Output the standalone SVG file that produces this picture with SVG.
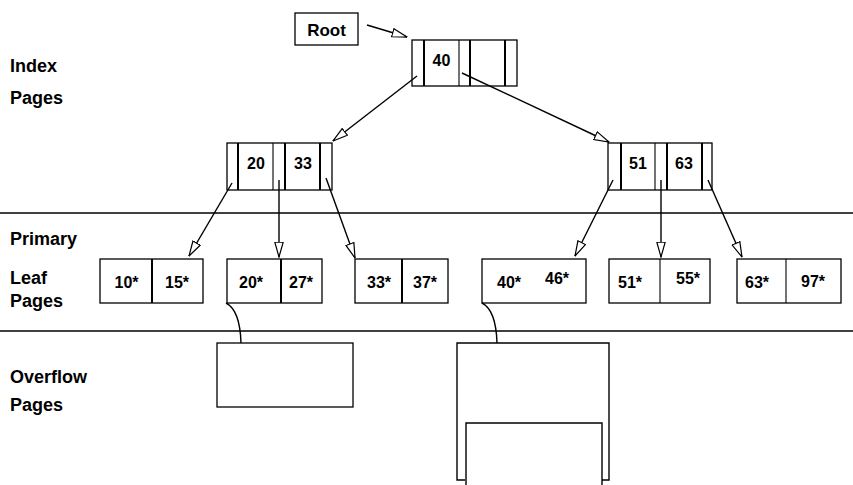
<svg xmlns="http://www.w3.org/2000/svg" width="853" height="485" viewBox="0 0 853 485">
<defs>
<marker id="ah" viewBox="0 0 16 10" refX="15.5" refY="5" markerWidth="16" markerHeight="10" markerUnits="userSpaceOnUse" orient="auto">
<path d="M0.6,0.8 L15.5,5 L0.6,9.2 Z" fill="#fff" stroke="#000" stroke-width="1.2"/>
</marker>
</defs>
<style>
text{font-family:"Liberation Sans",Arial,sans-serif;font-weight:bold;fill:#000}
.lbl{font-size:18px}
.k{font-size:16px;text-anchor:middle}
.box{fill:#fff;stroke:#000;stroke-width:1.3}
.thin{stroke:#000;stroke-width:1.1}
.thick{stroke:#000;stroke-width:2}
.sep{stroke:#000;stroke-width:1.5}
.c{fill:none;stroke:#000;stroke-width:1.4}
</style>
<rect width="853" height="485" fill="#fff"/>

<g id="labels">
<text class="lbl" x="10" y="72">Index</text>
<text class="lbl" x="10" y="104">Pages</text>
<text class="lbl" x="10" y="245">Primary</text>
<text class="lbl" x="10" y="284">Leaf</text>
<text class="lbl" x="10" y="307">Pages</text>
<text class="lbl" x="10" y="383">Overflow</text>
<text class="lbl" x="10" y="411">Pages</text>
</g>

<g id="separators">
<line class="sep" x1="0" y1="213" x2="853" y2="213"/>
<line class="sep" x1="0" y1="331" x2="853" y2="331"/>
</g>

<g id="root">
<rect class="box" x="295" y="13" width="63" height="32"/>
<text class="k" x="326.5" y="36" style="font-size:17px">Root</text>
</g>

<g id="node-40">
<rect class="box" x="412" y="40" width="105" height="46"/>
<line class="thick" x1="424" y1="40" x2="424" y2="86"/>
<line class="thin" x1="459" y1="40" x2="459" y2="86"/>
<line class="thick" x1="470" y1="40" x2="470" y2="86"/>
<line class="thick" x1="505" y1="40" x2="505" y2="86"/>
<text class="k" x="441.5" y="66">40</text>
</g>

<g id="node-20-33">
<rect class="box" x="227" y="143" width="105" height="47"/>
<line class="thick" x1="238" y1="143" x2="238" y2="190"/>
<line class="thin" x1="273" y1="143" x2="273" y2="190"/>
<line class="thick" x1="285" y1="143" x2="285" y2="190"/>
<line class="thick" x1="320" y1="143" x2="320" y2="190"/>
<text class="k" x="256" y="169">20</text>
<text class="k" x="303" y="169">33</text>
</g>

<g id="node-51-63">
<rect class="box" x="608" y="143" width="104" height="47"/>
<line class="thick" x1="621" y1="143" x2="621" y2="190"/>
<line class="thin" x1="655" y1="143" x2="655" y2="190"/>
<line class="thick" x1="667" y1="143" x2="667" y2="190"/>
<line class="thick" x1="702" y1="143" x2="702" y2="190"/>
<text class="k" x="638" y="169">51</text>
<text class="k" x="684" y="169">63</text>
</g>

<g id="leaf-10-15">
<rect class="box" x="100" y="259" width="103" height="44"/>
<line class="thick" x1="152" y1="259" x2="152" y2="303"/>
<text class="k" x="126.5" y="288">10*</text>
<text class="k" x="177" y="288">15*</text>
</g>
<g id="leaf-20-27">
<rect class="box" x="227" y="259" width="95" height="44"/>
<line class="thick" x1="281" y1="259" x2="281" y2="303"/>
<text class="k" x="251" y="288">20*</text>
<text class="k" x="301" y="288">27*</text>
</g>
<g id="leaf-33-37">
<rect class="box" x="355" y="259" width="93" height="44"/>
<line class="thick" x1="402" y1="259" x2="402" y2="303"/>
<text class="k" x="379" y="288">33*</text>
<text class="k" x="425" y="288">37*</text>
</g>
<g id="leaf-40-46">
<rect class="box" x="482" y="259" width="104" height="44"/>
<text class="k" x="509" y="288">40*</text>
<text class="k" x="557" y="284">46*</text>
</g>
<g id="leaf-51-55">
<rect class="box" x="609" y="259" width="101" height="44"/>
<line class="thin" x1="660" y1="259" x2="660" y2="303"/>
<text class="k" x="630" y="288">51*</text>
<text class="k" x="688" y="284">55*</text>
</g>
<g id="leaf-63-97">
<rect class="box" x="737" y="259" width="104" height="44"/>
<line class="thin" x1="786" y1="259" x2="786" y2="303"/>
<text class="k" x="757" y="288">63*</text>
<text class="k" x="813" y="287">97*</text>
</g>

<g id="overflow-1">
<rect class="box" x="217" y="343" width="136" height="64"/>
</g>
<g id="overflow-2">
<path class="c" d="M465,480 L457,480 L457,343 L609,343 L609,480 L602,480"/>
<path class="c" d="M466,485 L466,423 L602,423 L602,485"/>
</g>

<g id="connectors">
<line class="c" x1="367" y1="25" x2="407" y2="37" marker-end="url(#ah)"/>
<line class="c" x1="417" y1="76" x2="333" y2="141" marker-end="url(#ah)"/>
<line class="c" x1="462" y1="73" x2="609" y2="142" marker-end="url(#ah)"/>
<line class="c" x1="232" y1="183" x2="189" y2="256" marker-end="url(#ah)"/>
<line class="c" x1="279" y1="180" x2="279" y2="257" marker-end="url(#ah)"/>
<line class="c" x1="326" y1="178" x2="355" y2="258" marker-end="url(#ah)"/>
<line class="c" x1="613" y1="180" x2="575" y2="256" marker-end="url(#ah)"/>
<line class="c" x1="661" y1="180" x2="661" y2="257" marker-end="url(#ah)"/>
<line class="c" x1="708" y1="180" x2="742" y2="257" marker-end="url(#ah)"/>
<path class="c" d="M226,303 Q240,310 241,343"/>
<path class="c" d="M482,303 Q496,310 497,343"/>
</g>
</svg>
